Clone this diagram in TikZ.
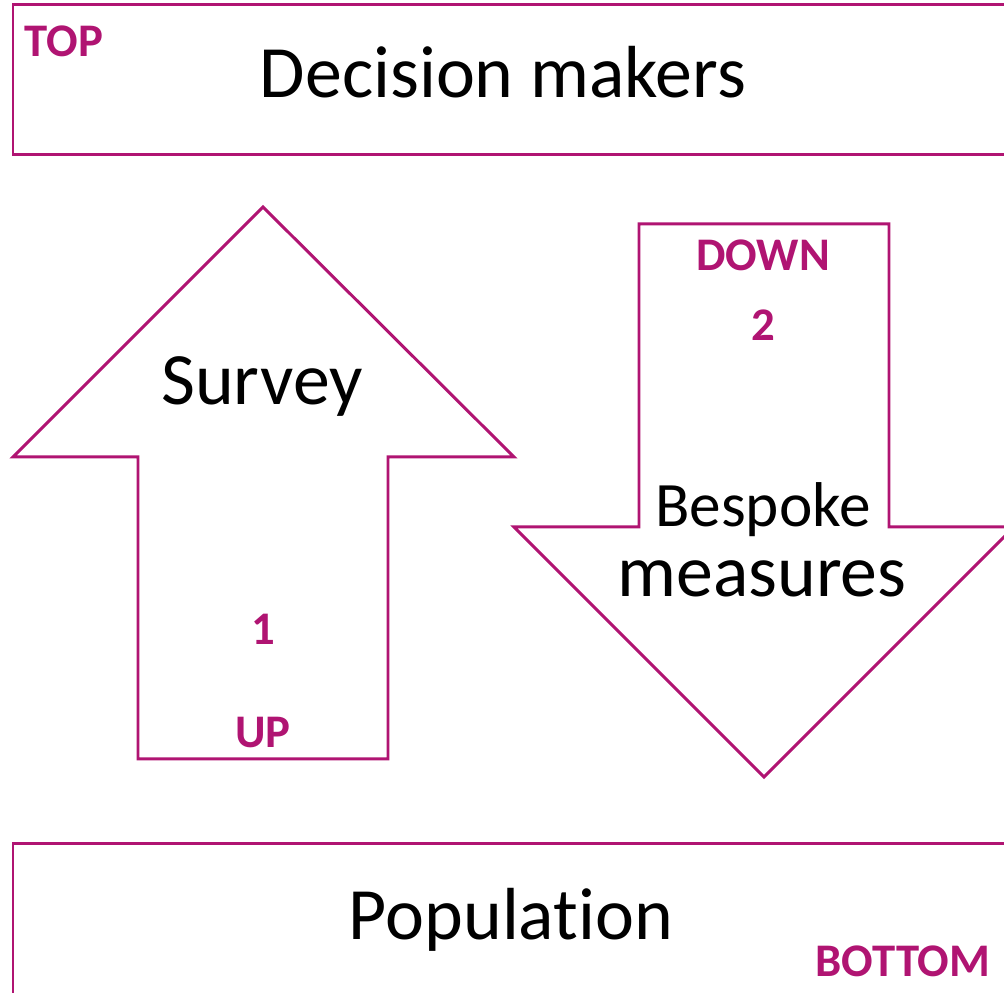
\documentclass[tikz,border=0pt]{standalone}
\usepackage{fontspec}
\setmainfont{Carlito}[Ligatures=NoCommon]
\usepackage{tikz}
\definecolor{plum}{RGB}{176,20,114}

\begin{document}
\begin{tikzpicture}[
  frame/.style={draw=plum, line width=0.85pt},
  band/.style={frame, rectangle, inner sep=0pt, minimum width=10.27cm},
  big/.style={anchor=base, inner sep=0pt, font=\fontsize{21}{25}\selectfont},
  tag/.style={anchor=base, inner sep=0pt, text=plum, font=\bfseries\fontsize{13.3}{15}\selectfont}]

\useasboundingbox (0,0) rectangle (10.04,9.93);
\fill[white] (0,0) rectangle (10.04,9.93);
\clip (0,0) rectangle (10.04,9.93);

\node[band, minimum height=1.5cm] (top) at (5.265,9.13) {};
\node[band, minimum height=1.79cm] (bottom) at (5.265,0.595) {};

\draw[frame] (2.63,7.86) -- (5.14,5.36) -- (3.88,5.36) -- (3.88,2.34)
  -- (1.38,2.34) -- (1.38,5.36) -- (0.13,5.36) -- cycle;
\draw[frame] (7.64,2.16) -- (10.14,4.66) -- (8.89,4.66) -- (8.89,7.69)
  -- (6.39,7.69) -- (6.39,4.66) -- (5.14,4.66) -- cycle;

\node[big] (dm) at (5.03,8.95) {Decision makers};
\node[big] (pop) at (5.11,0.53) {Population};
\node[big] (survey) at (2.62,5.88) {Survey};
\node[big, font=\fontsize{18}{22}\selectfont] (besp) at (7.63,4.66) {Bespoke};
\node[big] (meas) at (7.62,3.96) {measures};

\node[tag] (toplbl) at (0.64,9.36) {TOP};
\node[tag] (botlbl) at (9.03,0.16) {BOTTOM};
\node[tag] (one) at (2.63,3.48) {1};
\node[tag] (uplbl) at (2.63,2.45) {UP};
\node[tag] (two) at (7.63,6.52) {2};
\node[tag] (downlbl) at (7.63,7.22) {DOWN};
\end{tikzpicture}
\end{document}
